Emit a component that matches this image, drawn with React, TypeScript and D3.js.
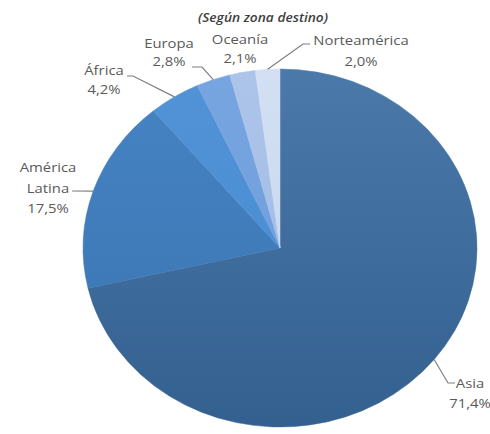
import React from "react";
import * as d3 from "d3";

const categories = ["Asia", "América Latina", "África", "Europa", "Oceanía", "Norteamérica"];
const values = [71.4, 17.5, 4.2, 2.8, 2.1, 2.0];
const valueLabels = ["71,4%", "17,5%", "4,2%", "2,8%", "2,1%", "2,0%"];
const labelLines = [["Asia"], ["América", "Latina"], ["África"], ["Europa"], ["Oceanía"], ["Norteamérica"]];
const title = "(Según zona destino)";

const colorsTop = ["#4a79aa", "#4684c4", "#5293d6", "#77a5e0", "#adc4ea", "#d3e0f3"];
const colorsBottom = ["#33608f", "#3a73b0", "#468ad0", "#6b9bdb", "#9fb9e4", "#c3d4ee"];

// layout: label center x, first line center y, line step, leader polyline points (text side)
const labelLayout = [
  { x: 470, y: 383, step: 20, leader: [[448, 383], [455, 383]] },
  { x: 48, y: 167, step: 20.5, leader: [[72, 191]] },
  { x: 104, y: 70, step: 18.5, leader: [[133, 76], [127, 76]] },
  { x: 169, y: 43, step: 17.5, leader: [[202, 67], [192, 67]] },
  { x: 240, y: 39, step: 19, leader: [] as number[][] },
  { x: 361, y: 40, step: 21, leader: [[303, 44], [310, 44]] },
];

const W = 490, H = 434;
const cx = 280, cy = 248, rx = 197, ry = 179;
const sx = rx / ry;

export default function App() {
  const pie = d3.pie<number>().sort(null).value((d) => d)(values);
  const arc = d3.arc<d3.PieArcDatum<number>>().innerRadius(0).outerRadius(ry);
  const font = "'Open Sans', 'DejaVu Sans', sans-serif";
  return (
    <svg width={W} height={H} style={{ position: "absolute", left: 0, top: 0, background: "#fff" }}>
      <defs>
        {categories.map((c, i) => (
          <linearGradient key={c} id={`g${i}`} gradientUnits="userSpaceOnUse" x1={0} y1={-ry} x2={0} y2={ry}>
            <stop offset="0%" stopColor={colorsTop[i]} />
            <stop offset="100%" stopColor={colorsBottom[i]} />
          </linearGradient>
        ))}
      </defs>
      <g transform={`translate(${cx},${cy}) scale(${sx},1)`}>
        {pie.map((p, i) => (
          <path key={categories[i]} d={arc(p) || ""} fill={`url(#g${i})`} stroke={`url(#g${i})`} strokeWidth={0.5} />
        ))}
      </g>
      {pie.map((p, i) => {
        const L = labelLayout[i];
        if (!L.leader.length) return null;
        const a = (p.startAngle + p.endAngle) / 2;
        const ex = cx + rx * Math.sin(a);
        const ey = cy - ry * Math.cos(a);
        const pts = [[ex, ey], ...L.leader];
        return (
          <polyline key={"l" + i} points={pts.map((q) => q.join(",")).join(" ")} fill="none" stroke="#7f7f7f" strokeWidth={1.2} />
        );
      })}
      {pie.map((p, i) => {
        const L = labelLayout[i];
        const lines = [...labelLines[i], valueLabels[i]];
        return (
          <g key={"t" + i}>
            {lines.map((t, j) => (
              <text
                key={j}
                transform={`translate(${L.x},${L.y + j * L.step}) scale(1.1,1)`}
                textAnchor="middle"
                dominantBaseline="central"
                fontFamily={font}
                fontSize={13.5}
                fill="#5a5a5a"
              >
                {t}
              </text>
            ))}
          </g>
        );
      })}
      <text
        transform={`translate(263,17) scale(1.1,1)`}
        textAnchor="middle"
        dominantBaseline="central"
        fontFamily={font}
        fontSize={12.5}
        fontStyle="italic"
        fontWeight={600}
        fill="#404040"
      >
        {title}
      </text>
    </svg>
  );
}
